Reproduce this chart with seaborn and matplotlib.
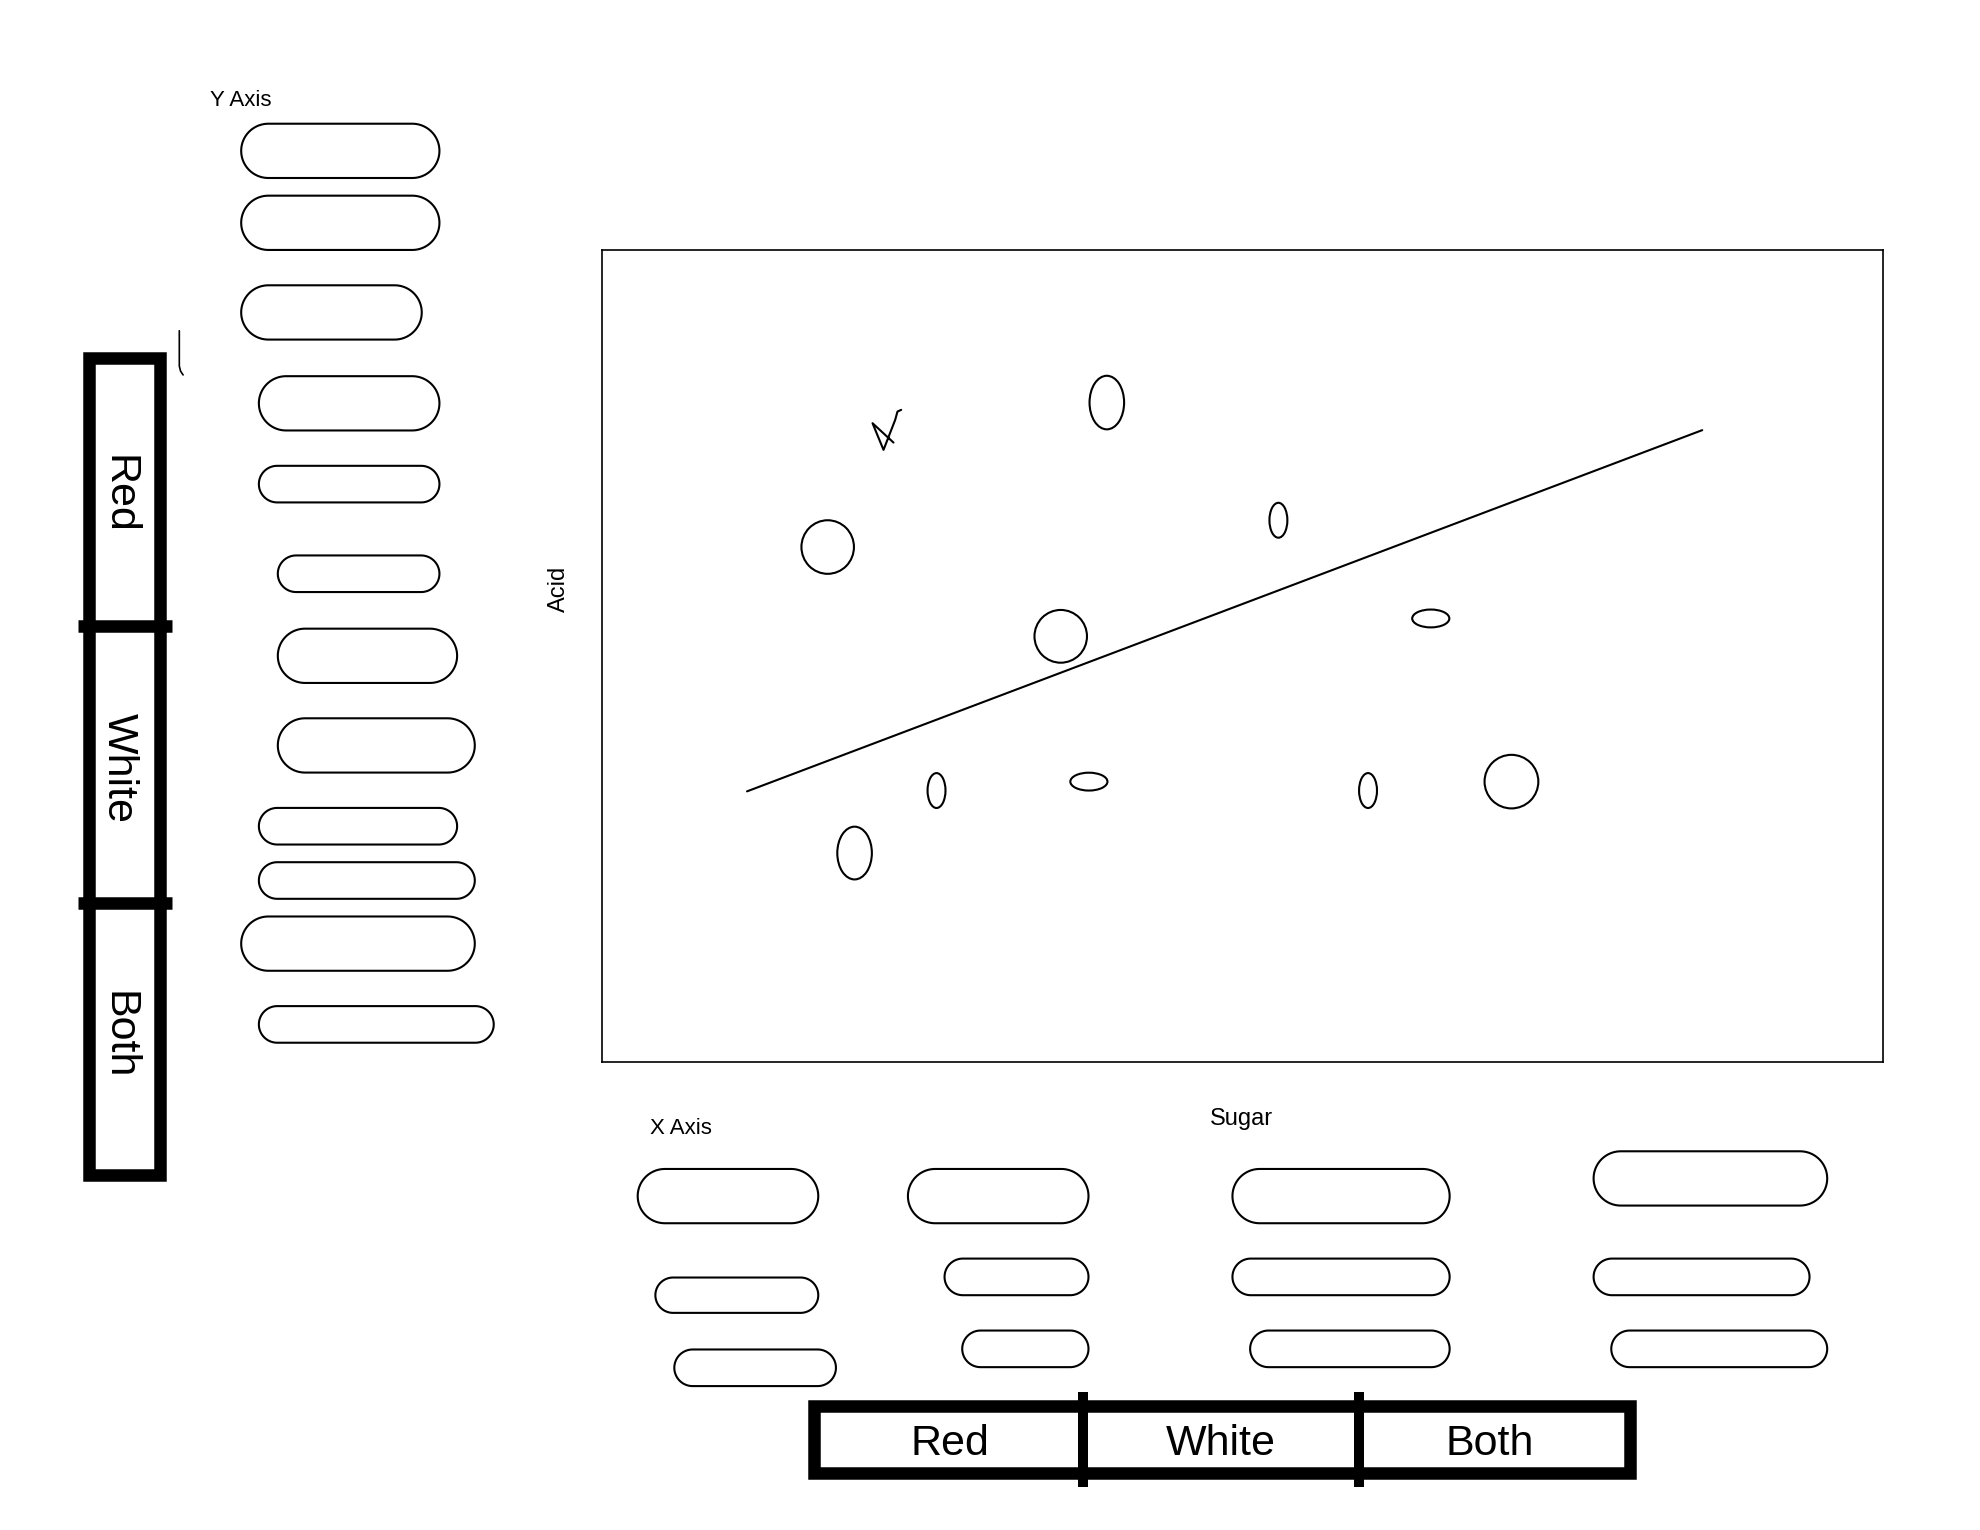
#!/usr/bin/env python3
import matplotlib
matplotlib.use('Agg')  # headless
import matplotlib.pyplot as plt
from matplotlib.patches import Polygon, Ellipse, Rectangle
import numpy as np
import pandas as pd
import seaborn as sns

# wine samples: sugar vs acid, with the spread drawn as an ellipse
sugar = [17.6, 39.4, 52.8, 35.8, 64.7, 26.1, 38.0, 59.8, 71.0, 19.7]
acid = [63.4, 81.2, 66.7, 52.4, 54.6, 33.4, 34.5, 33.4, 34.5, 25.7]
sugar_spread = [4.1, 2.7, 1.4, 4.1, 2.9, 1.4, 2.9, 1.4, 4.2, 2.7]
acid_spread = [6.6, 6.6, 4.3, 6.5, 2.2, 4.3, 2.2, 4.3, 6.6, 6.5]

# fitted trend line end points
trend_sugar = [11.3, 85.9]
trend_acid = [33.3, 77.8]

wine_types = ['Red', 'White', 'Both']

# wireframe layout, in units of a 1568 x 1212 sketch canvas
W, H = 1568, 1212
y_pills = [(191, 348, 98, 141), (191, 348, 155, 198), (191, 334, 226, 269),
           (205, 348, 298, 341), (205, 348, 369, 398), (220, 348, 440, 469),
           (220, 362, 498, 541), (220, 376, 569, 612), (205, 362, 640, 669),
           (205, 376, 683, 712), (191, 376, 726, 769), (205, 391, 797, 826)]
x_pills = [(505, 648, 926, 969), (519, 648, 1012, 1040), (534, 662, 1069, 1098),
           (719, 862, 926, 969), (748, 862, 997, 1026), (762, 862, 1054, 1083),
           (976, 1148, 926, 969), (976, 1148, 997, 1026), (990, 1148, 1054, 1083),
           (1262, 1447, 912, 955), (1262, 1433, 997, 1026), (1276, 1447, 1054, 1083)]
PLOT_BOX = (477, 1491, 198, 841)

FONT = ['Liberation Sans', 'DejaVu Sans']


def pill(ax, x0, x1, y0, y1, lw=1.5):
    # stadium shape with true half-circle ends
    r = (y1 - y0) / 2
    yc = (y0 + y1) / 2
    a_left = np.linspace(np.pi / 2, 3 * np.pi / 2, 40)
    a_right = np.linspace(-np.pi / 2, np.pi / 2, 40)
    xs = np.concatenate([x0 + r + r * np.cos(a_left), x1 - r + r * np.cos(a_right)])
    ys = np.concatenate([yc - r * np.sin(a_left), yc - r * np.sin(a_right)])
    ax.add_patch(Polygon(np.column_stack([xs, ys]), closed=True,
                         fill=False, ec='black', lw=lw))


def main():
    sns.set_theme(style='white')
    plt.rcParams['font.family'] = FONT
    plt.rcParams['text.color'] = 'black'
    plt.rcParams['axes.labelcolor'] = 'black'

    fig = plt.figure(figsize=(19.8, 15.3), dpi=100)
    fig.patch.set_facecolor('white')

    # overlay for the wireframe controls
    ov = fig.add_axes([0, 0, 1, 1], zorder=0)
    ov.set_xlim(0, W)
    ov.set_ylim(H, 0)
    ov.axis('off')
    ov.patch.set_alpha(0)

    for p in y_pills:
        pill(ov, *p)
    for p in x_pills:
        pill(ov, *p)

    ov.text(166, 80, 'Y Axis', fontsize=16, ha='left', va='center')
    ov.text(515, 894, 'X Axis', fontsize=16, ha='left', va='center')

    # vertical toggle (left)
    thick = 9
    ov.add_patch(Rectangle((70.5, 283.5), 56, 647, fill=False, ec='black', lw=thick))
    for yd in [496, 715]:
        ov.plot([62, 136], [yd, yd], color='black', lw=thick, solid_capstyle='butt')
    for name, yc in zip(wine_types, [392, 608, 820]):
        ov.text(94, yc, name, fontsize=31, rotation=-90, ha='center', va='center')

    # horizontal toggle (bottom)
    ov.add_patch(Rectangle((645, 1113.8), 646, 53, fill=False, ec='black', lw=thick))
    for xd in [858, 1076]:
        ov.plot([xd, xd], [1103, 1178], color='black', lw=thick * 0.8, solid_capstyle='butt')
    for name, xc in zip(wine_types, [752, 967, 1180]):
        ov.text(xc, 1144, name, fontsize=31, ha='center', va='center')

    # stray bracket mark
    ov.plot([142, 142, 143, 145], [262, 290, 294, 297], color='black', lw=1.2)

    # main scatter panel
    l, r, t, b = PLOT_BOX
    ax = fig.add_axes([l / W, 1 - b / H, (r - l) / W, (b - t) / H], zorder=1)
    ax.set_xlim(0, 100)
    ax.set_ylim(0, 100)

    df = pd.DataFrame({'sugar': sugar, 'acid': acid,
                       'ws': sugar_spread, 'hs': acid_spread})
    for row in df.itertuples():
        ax.add_patch(Ellipse((row.sugar, row.acid), row.ws, row.hs,
                             fill=False, ec='black', lw=1.5))

    sns.lineplot(x=trend_sugar, y=trend_acid, ax=ax, color='black', lw=1.5)

    # hand-drawn tick mark near the top left
    ax.plot([22.74, 21.10, 21.96, 22.87, 23.05, 23.34],
            [76.27, 78.66, 75.37, 79.06, 80.09, 80.30], color='black', lw=1.5)

    ax.set_xticks([])
    ax.set_yticks([])
    for s in ax.spines.values():
        s.set_visible(True)
        s.set_color('black')
        s.set_linewidth(1.2)

    ax.set_xlabel('Sugar', fontsize=17)
    ax.xaxis.label.set_va('center')
    ax.xaxis.set_label_coords(0.499, -0.071)
    ax.set_ylabel('Acid', fontsize=17)
    ax.yaxis.label.set_va('center')
    ax.yaxis.set_label_coords(-0.0335, 0.583)

    fig.savefig('out.png', dpi=100, facecolor='white')
    plt.close(fig)


if __name__ == '__main__':
    main()
